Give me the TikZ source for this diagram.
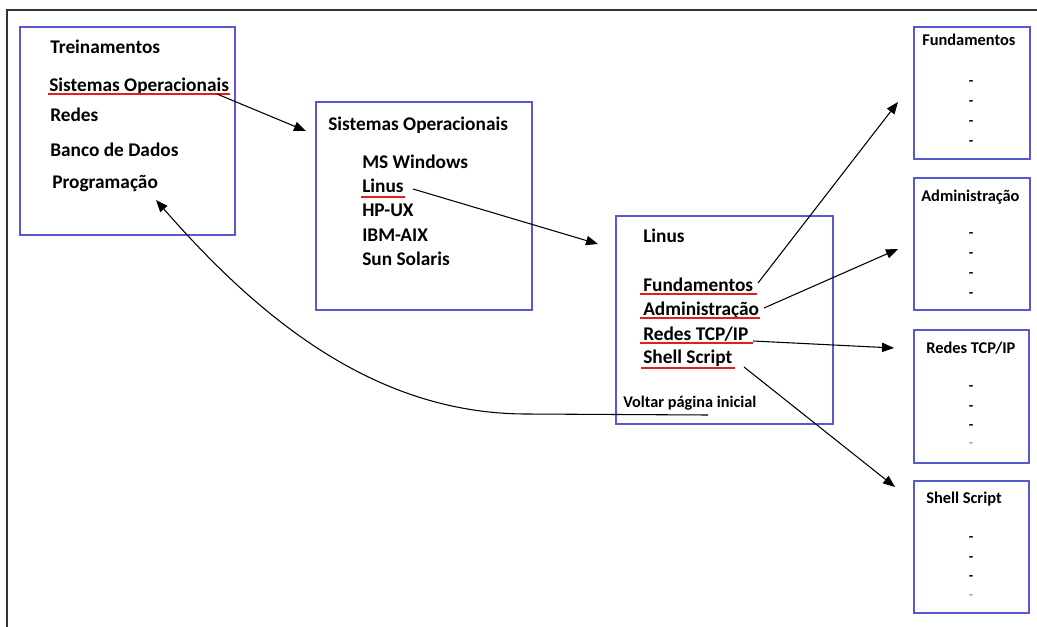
\documentclass[tikz,border=0pt]{standalone}
\usepackage{fontspec}
\setmainfont{Carlito}
\usetikzlibrary{arrows.meta}
\definecolor{boxblue}{RGB}{88,88,212}
\definecolor{ulred}{RGB}{232,28,28}
\begin{document}
\begin{tikzpicture}[x=0.75pt,y=-0.75pt,
  panel/.style={draw=boxblue,line width=1.1pt},
  lbl/.style={inner sep=0,anchor=base west,font=\bfseries\fontsize{14.5}{17}\selectfont},
  sub/.style={inner sep=0,anchor=base west,font=\bfseries\fontsize{12.3}{15}\selectfont},
  back/.style={inner sep=0,anchor=base west,font=\bfseries\fontsize{12.2}{15}\selectfont},
  tick/.style={inner sep=0,anchor=base,font=\bfseries\fontsize{11}{13}\selectfont},
  link/.style={line width=0.8pt,-{Triangle[length=9pt,width=7pt]}},
  uline/.style={draw=ulred,line width=1.1pt}]
\useasboundingbox (0,0) rectangle (1037,627);

% page frame (top and left edges)
\draw[line width=1.5pt,draw=black!80] (1037,10) -- (7,10) -- (7,627);

% --- main menu ---
\draw[panel] (20,27) rectangle (235,235);
\node[lbl] (t1) at (50,54) {Treinamentos};
\node[lbl] (so1) at (49,92) {Sistemas Operacionais};
\node[lbl] (re1) at (50,122) {Redes};
\node[lbl] (bd1) at (50,157) {Banco de Dados};
\node[lbl] (pg1) at (52,189) {Programação};
\draw[uline] (48,94) -- (230,94);

% --- operating systems ---
\draw[panel] (316,102) rectangle (532,310);
\node[lbl] (t2) at (328,131) {Sistemas Operacionais};
\node[lbl] (ms2) at (362,169) {MS Windows};
\node[lbl] (li2) at (362,193) {Linus};
\node[lbl] (hp2) at (362,217) {HP-UX};
\node[lbl] (ib2) at (362,241) {IBM-AIX};
\node[lbl] (su2) at (362,265) {Sun Solaris};
\draw[uline] (361,197) -- (405,197);

% --- Linus ---
\draw[panel] (616,216) rectangle (833,424);
\node[lbl] (t3) at (643,243) {Linus};
\node[lbl] (fu3) at (643,291) {Fundamentos};
\node[lbl] (ad3) at (643,315) {Administração};
\node[lbl] (tc3) at (643,340) {Redes TCP/IP};
\node[lbl] (sh3) at (643,363) {Shell Script};
\node[back] (vo3) at (623,407) {Voltar página inicial};
\draw[uline] (640,294) -- (757,294);
\draw[uline] (640,318) -- (760,318);
\draw[uline] (640,343) -- (753,343);
\draw[uline] (641,368) -- (735,368);

% --- course detail pages ---
\draw[panel] (914,27) rectangle (1030,159);
\node[sub] (fu4) at (922,46) {Fundamentos};
\foreach \y in {82,102,122,142} \node[tick] at (971,\y+4) {-};

\draw[panel] (914,178) rectangle (1030,310);
\node[sub] (ad4) at (921,201) {Administração};
\foreach \y in {233,253,273,293} \node[tick] at (971,\y+4) {-};

\draw[panel] (914,330) rectangle (1029,463);
\node[sub] (tc4) at (926,353) {Redes TCP/IP};
\foreach \y in {386,406,425} \node[tick] at (971,\y+4) {-};
\node[tick,text=black!35] at (971,447) {-};

\draw[panel] (914,481) rectangle (1029,613);
\node[sub] (sh4) at (926,503) {Shell Script};
\foreach \y in {537,557,576} \node[tick] at (971,\y+4) {-};
\node[tick,text=black!35] at (971,599) {-};

% --- links ---
\coordinate (a1s) at (217,94);   \coordinate (a1e) at (306,131);
\coordinate (a2s) at (413,189);  \coordinate (a2e) at (598,244);
\coordinate (a3s) at (758,283);  \coordinate (a3e) at (898,102);
\coordinate (a4s) at (764,308);  \coordinate (a4e) at (898,249);
\coordinate (a5s) at (753,341);  \coordinate (a5e) at (894,348);
\coordinate (a6s) at (744,367);  \coordinate (a6e) at (895,487);
\coordinate (bks) at (708,415);  \coordinate (bkm) at (527,414);
\coordinate (bke) at (156,200);

\draw[link] (a1s) -- (a1e);
\draw[link] (a2s) -- (a2e);
\draw[link] (a3s) -- (a3e);
\draw[link] (a4s) -- (a4e);
\draw[link] (a5s) -- (a5e);
\draw[link] (a6s) -- (a6e);
\draw[link] (bks) -- (bkm) .. controls (380,414) and (265,325) .. (bke);
\end{tikzpicture}
\end{document}
